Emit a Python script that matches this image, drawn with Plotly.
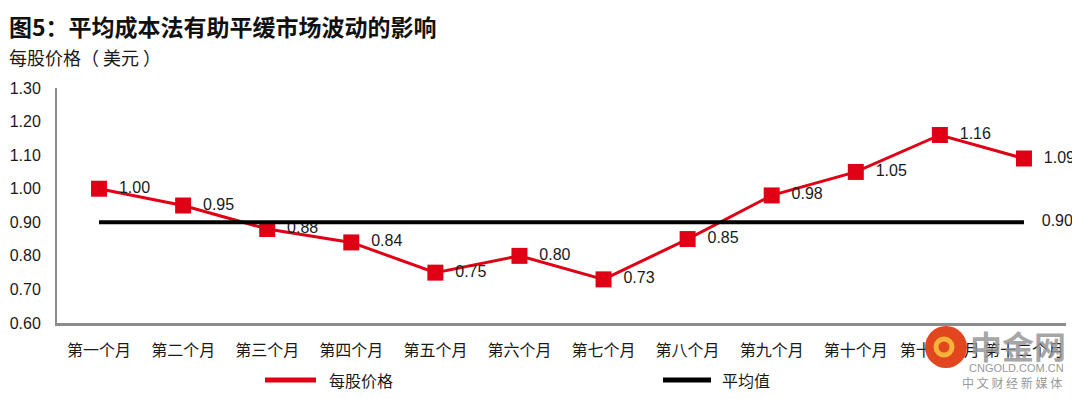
import plotly.graph_objects as go

months = ["第一个月", "第二个月", "第三个月", "第四个月", "第五个月", "第六个月",
          "第七个月", "第八个月", "第九个月", "第十个月", "第十一个月", "第十二个月"]
price = [1.00, 0.95, 0.88, 0.84, 0.75, 0.80, 0.73, 0.85, 0.98, 1.05, 1.16, 1.09]
average = [0.90] * 12
y_ticks = [0.60, 0.70, 0.80, 0.90, 1.00, 1.10, 1.20, 1.30]
series_names = ["每股价格", "平均值"]

RED = "#E00016"
NUM_FONT = "Liberation Sans, Arial, sans-serif"
CJK_FONT = "Noto Sans CJK SC, sans-serif"
PAD = "\u00a0\u00a0"

# page body has an 8px default margin; figure is sized to fill the 1080x399 window
OFF = 8
W, H = 1080 - OFF, 399 - OFF
L, R, T, B = 57 - OFF, 14, 88 - OFF, 76
PW, PH = W - L - R, H - T - B


def px_x(x):  # x in window pixels -> paper coords
    return (x - OFF - L) / PW


def px_y(y):  # y in window pixels -> paper coords
    return (H - B - (y - OFF)) / PH


fig = go.Figure()

fig.add_trace(go.Scatter(
    x=months, y=price, name=series_names[0],
    mode="lines+markers+text",
    line=dict(color=RED, width=3),
    marker=dict(symbol="square", size=16, color=RED),
    text=[PAD + f"{v:.2f}" for v in price],
    textposition="middle right",
    textfont=dict(family=NUM_FONT, size=16, color="#1a1a1a"),
    cliponaxis=False, showlegend=False,
))

avg_text = [""] * (len(average) - 1) + [PAD + PAD + f"{average[-1]:.2f}"]
fig.add_trace(go.Scatter(
    x=months, y=average, name=series_names[1],
    mode="lines+text",
    line=dict(color="#000000", width=4),
    text=avg_text,
    textposition="middle right",
    textfont=dict(family=NUM_FONT, size=16, color="#1a1a1a"),
    cliponaxis=False, showlegend=False,
))

annotations = [
    dict(text="<b>图5：平均成本法有助平缓市场波动的影响</b>", xref="paper", yref="paper",
         x=px_x(8), y=px_y(8), xanchor="left", yanchor="top", borderpad=0,
         showarrow=False, font=dict(family=CJK_FONT, size=23, color="#111111")),
    dict(text="每股价格（ 美元 ）", xref="paper", yref="paper",
         x=px_x(8), y=px_y(57), xanchor="left", yanchor="middle", borderpad=0,
         showarrow=False, font=dict(family=CJK_FONT, size=18, color="#1a1a1a")),
    # legend texts
    dict(text=series_names[0], xref="paper", yref="paper",
         x=px_x(327), y=px_y(380), xanchor="left", yanchor="middle",
         showarrow=False, font=dict(family=CJK_FONT, size=16, color="#1a1a1a")),
    dict(text=series_names[1], xref="paper", yref="paper",
         x=px_x(720), y=px_y(380), xanchor="left", yanchor="middle",
         showarrow=False, font=dict(family=CJK_FONT, size=16, color="#1a1a1a")),
    # watermark
    dict(text="<b>中金网</b>", xref="paper", yref="paper",
         x=px_x(1068), y=px_y(345), xanchor="right", yanchor="middle",
         showarrow=False, font=dict(family=CJK_FONT, size=32, color="rgba(150,150,150,0.85)")),
    dict(text="CNGOLD.COM.CN", xref="paper", yref="paper",
         x=px_x(1066), y=px_y(368), xanchor="right", yanchor="middle",
         showarrow=False, font=dict(family=NUM_FONT, size=11, color="#999999")),
    dict(text="中 文 财 经 新 媒 体", xref="paper", yref="paper",
         x=px_x(1064), y=px_y(382), xanchor="right", yanchor="middle",
         showarrow=False, font=dict(family=CJK_FONT, size=12, color="#999999")),
]

shapes = [
    # legend samples
    dict(type="line", xref="paper", yref="paper", x0=px_x(265), x1=px_x(316),
         y0=px_y(380), y1=px_y(380), line=dict(color=RED, width=5)),
    dict(type="line", xref="paper", yref="paper", x0=px_x(663), x1=px_x(711),
         y0=px_y(380), y1=px_y(380), line=dict(color="#000000", width=5)),
    # watermark logo
    dict(type="circle", xref="paper", yref="paper", layer="above",
         xsizemode="pixel", ysizemode="pixel",
         xanchor=px_x(946), yanchor=px_y(347),
         x0=-21, x1=21, y0=-21, y1=21,
         fillcolor="#E2461E", line=dict(width=0)),
    dict(type="circle", xref="paper", yref="paper", layer="above",
         xsizemode="pixel", ysizemode="pixel",
         xanchor=px_x(944), yanchor=px_y(347),
         x0=-8, x1=8, y0=-8, y1=8,
         fillcolor="rgba(0,0,0,0)", line=dict(width=5, color="#F6B23A")),
]

fig.update_layout(
    width=W, height=H,
    margin=dict(l=L, r=R, t=T, b=B, autoexpand=False),
    paper_bgcolor="white", plot_bgcolor="white",
    font=dict(family=CJK_FONT, size=16, color="#1a1a1a"),
    showlegend=False,
    xaxis=dict(
        type="category", range=[-0.5, 11.5], automargin=False,
        showline=True, linecolor="#8c8c8c", linewidth=2.5,
        showgrid=False, zeroline=False, ticks="",
        tickfont=dict(family=CJK_FONT, size=16, color="#1a1a1a"),
        ticklabelstandoff=11,
    ),
    yaxis=dict(
        range=[0.6, 1.3], tickvals=y_ticks, tickformat=".2f", automargin=False,
        showline=True, linecolor="#8c8c8c", linewidth=2,
        showgrid=False, zeroline=False, ticks="",
        tickfont=dict(family=NUM_FONT, size=16, color="#1a1a1a"),
        ticklabelstandoff=11,
    ),
    annotations=annotations,
    shapes=shapes,
)

fig.write_html("out.html")
